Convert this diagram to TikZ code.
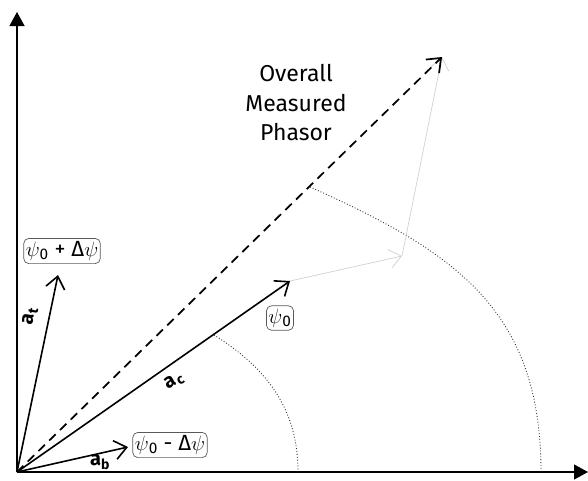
\documentclass[tikz,border=0pt]{standalone}
\usepackage{fontspec}
\setmainfont{Fira Sans}
\usetikzlibrary{arrows.meta}
\begin{document}
\begin{tikzpicture}[x=1pt,y=-1pt,
  axis/.style={line width=1.3pt,-{Triangle[length=14pt,width=15pt]}},
  vec/.style={line width=1.6pt,-{Straight Barb[length=12pt,width=19pt]}},
  dvec/.style={line width=1.7pt,dash pattern=on 9pt off 6pt,-{Straight Barb[length=12pt,width=19pt]}},
  gvec/.style={line width=0.7pt,draw=black!18,-{Straight Barb[length=12pt,width=19pt]}},
  arcline/.style={line width=0.9pt,dotted,draw=black!80},
  phbox/.style={draw=black!65,line width=0.7pt,rounded corners=5pt,inner xsep=2pt,inner ysep=3pt,font=\fontsize{22}{24}\selectfont},
  veclab/.style={font=\fontsize{20}{22}\selectfont\bfseries,inner sep=0pt},
  big/.style={font=\fontsize{23}{29.5}\selectfont,align=center}]
\useasboundingbox (0,0) rectangle (588,480);
\coordinate (O) at (17,472);
\coordinate (Ytop) at (17,12);
\coordinate (Xend) at (588,472);
\coordinate (At) at (58,275);
\coordinate (Ab) at (128,447);
\coordinate (Ac) at (290,281);
\coordinate (G1) at (402,256);
\coordinate (Tot) at (442,57);
\coordinate (Sa) at (214,335);
\coordinate (Se) at (298,472);
\coordinate (Ba) at (310,187);
\coordinate (Be) at (541,472);
% axes
\draw[axis] (O) -- (Ytop);
\draw[axis] (O) -- (Xend);
% arcs
\draw[arcline] (Sa) to[out=-32,in=90] (Se);
\draw[arcline] (Ba) to[out=-24,in=90,looseness=1.12] (Be);
% gray sum construction
\draw[gvec] (Ac) -- (G1);
\draw[gvec] (G1) -- (Tot);
% vectors
\draw[dvec] (O) -- (Tot);
\draw[vec] (O) -- (At);
\draw[vec] (O) -- (Ab);
\draw[vec] (O) -- (Ac);
% labels
\node[phbox] (lt) at (62,251) {$\psi$\textsubscript{0} + Δ$\psi$};
\node[phbox] (lc) at (280,318) {$\psi$\textsubscript{0}};
\node[phbox] (lb) at (170,445) {$\psi$\textsubscript{0} - Δ$\psi$};
\node[veclab,rotate=80] (nt) at (30,316) {a\kern1pt\textsubscript{t}};
\node[veclab,rotate=30] (nc) at (174,381) {a\kern1pt\textsubscript{c}};
\node[veclab] (nb) at (100,462) {a\textsubscript{b}};
\node[big] (ov) at (296,103) {Overall\\Measured\\Phasor};
\end{tikzpicture}
\end{document}
